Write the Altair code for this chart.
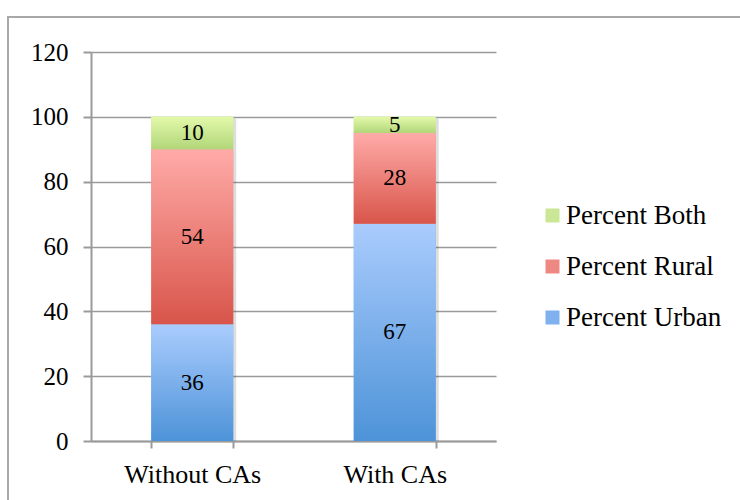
import altair as alt
import pandas as pd

# Categories and series values
groups = ["Without CAs", "With CAs"]
series_order = ["Percent Urban", "Percent Rural", "Percent Both"]  # bottom to top
legend_order = ["Percent Both", "Percent Rural", "Percent Urban"]
urban = [36, 67]
rural = [54, 28]
both = [10, 5]
y_ticks = [0, 20, 40, 60, 80, 100, 120]

# Vertical gradient (top colour, bottom colour) for each series
gradients = {
    "Percent Urban": ("#AACCFD", "#4D93D8"),
    "Percent Rural": ("#FFABA8", "#D8554A"),
    "Percent Both": ("#E3F9AA", "#B1D679"),
}
legend_colors = ["#CBE795", "#EE8882", "#7EB1EE"]

rows = []
for i, g in enumerate(groups):
    for k, (s, vals) in enumerate(zip(series_order, [urban, rural, both])):
        rows.append({"group": g, "series": s, "value": vals[i], "order": k})
df = pd.DataFrame(rows)

FONT = "Times New Roman, Liberation Serif, serif"
GRAY = "#9a9a9a"

x_axis = alt.Axis(
    title=None, labelAngle=0, tickBand="extent", grid=False,
    labelFont=FONT, labelFontSize=26, labelColor="black",
    labelPadding=13, tickSize=7, tickColor=GRAY, tickWidth=2,
    domainColor=GRAY, domainWidth=2,
)
y_axis = alt.Axis(
    title=None, values=y_ticks, grid=True, gridColor=GRAY, gridWidth=1.5,
    labelFont=FONT, labelFontSize=25, labelColor="black", labelPadding=15,
    tickSize=8, tickColor=GRAY, tickWidth=2, domainColor=GRAY, domainWidth=2,
)
x_scale = alt.Scale(paddingInner=0.595, paddingOuter=0.2975)
y_scale = alt.Scale(domain=[0, 120])


def xenc():
    return alt.X("group:N", sort=groups, scale=x_scale, axis=x_axis)


def yenc(field):
    return alt.Y(field, scale=y_scale, axis=y_axis)


base = alt.Chart(df).transform_stack(
    stack="value", groupby=["group"], as_=["y0", "y1"],
    sort=[alt.SortField("order", order="ascending")],
)

# Soft drop shadow behind each column
shadow = alt.Chart(df).mark_bar(color="#000000", opacity=0.13, xOffset=3, yOffset=2).encode(
    x=xenc(),
    y=yenc("sum(value):Q"),
)

# Solid layer carries the legend
solid = base.mark_bar().encode(
    x=xenc(),
    y=yenc("y0:Q"),
    y2="y1:Q",
    color=alt.Color(
        "series:N",
        scale=alt.Scale(domain=legend_order, range=legend_colors),
        legend=alt.Legend(
            title=None, orient="none", legendX=448, legendY=150, padding=0,
            symbolType="square", symbolSize=196, symbolStrokeWidth=0,
            labelFont=FONT, labelFontSize=27, labelColor="black",
            labelOffset=0, rowPadding=23,
        ),
    ),
)

# Gradient-filled segments, one layer per series
grad_layers = []
for s in series_order:
    top, bottom = gradients[s]
    grad_layers.append(
        base.transform_filter(alt.datum.series == s).mark_bar(
            color=alt.Gradient(
                gradient="linear", x1=0, x2=0, y1=0, y2=1,
                stops=[alt.GradientStop(color=top, offset=0),
                       alt.GradientStop(color=bottom, offset=1)],
            )
        ).encode(x=xenc(), y=yenc("y0:Q"), y2="y1:Q")
    )

labels = base.transform_calculate(mid="(datum.y0 + datum.y1) / 2").mark_text(
    font=FONT, fontSize=23, color="black", baseline="middle"
).encode(
    x=xenc(),
    y=yenc("mid:Q"),
    text="value:Q",
)

# Outer frame around the whole chart
frame = alt.Chart(pd.DataFrame({"f": [0]})).mark_rect(
    fill="transparent", stroke="#a8a8a8", strokeWidth=2
).encode(
    x=alt.value(-83), x2=alt.value(700), y=alt.value(-35), y2=alt.value(500)
)

chart = alt.layer(frame, shadow, solid, *grad_layers, labels).properties(
    width=405, height=389,
    autosize="none",
    padding={"left": 91, "top": 52, "right": 244, "bottom": 59},
    background="white",
).configure_view(stroke=None)

chart.save("out.html", embed_options={"renderer": "svg", "actions": False})
